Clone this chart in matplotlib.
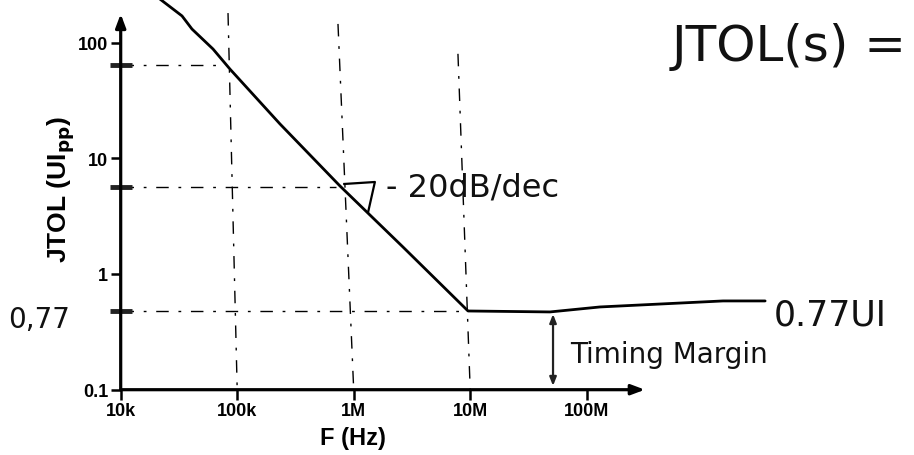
import numpy as np
import matplotlib
matplotlib.use('Agg')
import matplotlib.pyplot as plt

# hand drawn JTOL curve
curve_f = [2.17e4, 3.36e4, 4.09e4, 6.2e4, 8.67e4, 2.33e5, 7.63e5, 2.65e6, 9.58e6,
           4.84e7, 1.30e8, 1.48e9, 3.4e9]
curve_j = [238, 170, 131, 88, 59, 19.8, 5.76, 1.71, 0.479,
           0.470, 0.519, 0.585, 0.585]

# dash-dot guide lines
hguide_j = [64, 5.65, 0.48]
hguide_fend = [7.0e4, 7.0e5, 9.6e6]
vguide_ftop = [8.34e4, 7.33e5, 7.85e6]
vguide_jtop = [180, 145, 80]
vguide_fbot = [1e5, 1e6, 1e7]

# slope triangle
tri_f = [8.3e5, 1.52e6, 1.33e6]
tri_j = [6.0, 6.24, 3.43]

# timing margin arrow
margin_f = 5.14e7
margin_j = [0.45, 0.108]

xticks = [1e4, 1e5, 1e6, 1e7, 1e8]
xticklabels = ['10k', '100k', '1M', '10M', '100M']
yticks = [0.1, 1, 10, 100]
yticklabels = ['0.1', '1', '10', '100']

W, H = 914, 456
fig = plt.figure(figsize=(W / 100, H / 100), dpi=100)
x0, y0 = 120.7, 390.7
ax = fig.add_axes([x0 / W, (H - y0) / H, (W - x0) / W, y0 / H])
ax.set_xscale('log')
ax.set_yscale('log')
ax.set_xlim(1e4, 10 ** (4 + (W - x0) / 116.5))
ax.set_ylim(0.1, 10 ** (-1 + y0 / 115.7))
for s in ax.spines.values():
    s.set_visible(False)
ax.patch.set_alpha(0)

ax.set_xticks(xticks)
ax.set_xticklabels(xticklabels)
ax.set_yticks(yticks)
ax.set_yticklabels(yticklabels)
ax.minorticks_off()
ax.tick_params(axis='both', direction='out', length=7, width=1.8, color='black',
               labelsize=13, pad=2)
for lab in ax.get_xticklabels() + ax.get_yticklabels():
    lab.set_fontweight('bold')
    lab.set_family('Liberation Sans')

# axes with arrows
arrow = dict(arrowstyle='-|>,head_length=0.8,head_width=0.3', lw=2.3, color='black',
             shrinkA=0, shrinkB=0)
ax.annotate('', xy=(1e4, 177), xytext=(1e4, 0.1), arrowprops=arrow)
ax.annotate('', xy=(3.16e8, 0.1), xytext=(1e4, 0.1), arrowprops=arrow)

dashdot = (0, (9, 7, 2, 7))
for j, fe in zip(hguide_j, hguide_fend):
    ax.plot([1e4, fe], [j, j], color='black', lw=1.0, ls=dashdot)
for ft, jt, fb in zip(vguide_ftop, vguide_jtop, vguide_fbot):
    ax.plot([ft, fb], [jt, 0.1], color='black', lw=1.0, ls=dashdot)

# hand marks on the y axis
ax.plot([1e4] * 3, hguide_j, ls='none', marker='_', ms=16, mew=3.5, color='#222222',
        clip_on=False)

ax.plot(curve_f, curve_j, color='black', lw=2.0, clip_on=False,
        solid_joinstyle='round', solid_capstyle='round')

ax.plot(tri_f, tri_j, color='black', lw=1.6)

ax.annotate('', xy=(margin_f, margin_j[0]), xytext=(margin_f, margin_j[1]),
            arrowprops=dict(arrowstyle='<|-|>,head_length=0.5,head_width=0.2',
                            lw=1.6, color='#222222', shrinkA=0, shrinkB=0))

hand = dict(family='DejaVu Sans', color='#111111')
fig.text(672 / W, 1 - 47 / H, 'JTOL(s) =', fontsize=36, va='center', ha='left', **hand)
fig.text(386 / W, 1 - 188 / H, '- 20dB/dec', fontsize=23, va='center', ha='left', **hand)
fig.text(774 / W, 1 - 316 / H, '0.77UI', fontsize=25, va='center', ha='left', **hand)
fig.text(8 / W, 1 - 320 / H, '0,77', fontsize=20, va='center', ha='left', **hand)
fig.text(570 / W, 1 - 355 / H, 'Timing Margin', fontsize=20, va='center', ha='left', **hand)

fig.text(353 / W, 1 - 439 / H, 'F (Hz)', fontsize=17, fontweight='bold',
         family='Liberation Sans', ha='center', va='center')
fig.text(61 / W, 1 - 190 / H, 'JTOL (UI$_{\\mathbf{pp}}$)', fontsize=19, fontweight='bold',
         family='Liberation Sans', rotation=90, ha='center', va='center')

fig.savefig('out.png', dpi=100)
